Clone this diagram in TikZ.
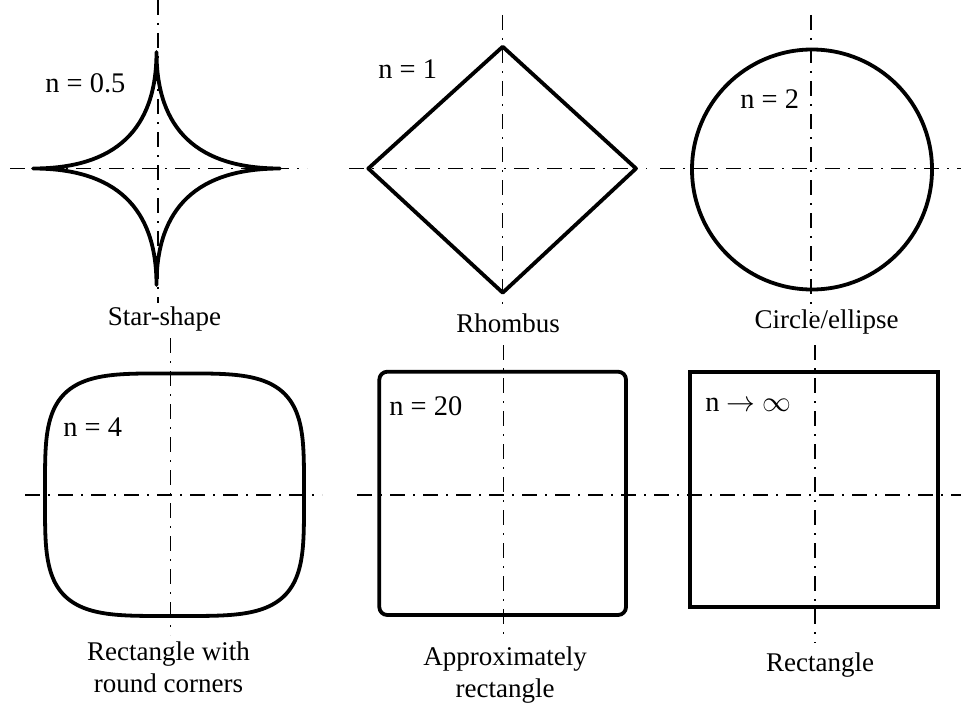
\documentclass[tikz,border=0pt]{standalone}
\usepackage{fontspec}
\setmainfont{Liberation Serif}
\usepackage{tikz}
\usetikzlibrary{positioning}

\begin{document}
\begin{tikzpicture}[
        x=0.5pt, y=-0.5pt,
        outline/.style={line width=1.9pt, line join=round},
        axis/.style={line width=0.75pt, dash pattern=on 7.5pt off 4pt on 1pt off 4pt},
        nlabel/.style={anchor=base west, inner sep=0pt, font=\fontsize{14.2pt}{17pt}\selectfont},
        caption/.style={inner sep=0pt, align=center, font=\fontsize{13.5pt}{16pt}\selectfont}
    ]
        \useasboundingbox (0,0) rectangle (961,706);

        % Centre lines, top row
        \draw[axis] (158,0) -- (158,303);
        \draw[axis] (10,168.5) -- (307,168.5);
        \draw[axis] (502.7,15) -- (502.7,307);
        \draw[axis] (349,168.5) -- (647,168.5);
        \draw[axis] (811,15) -- (811,313);
        \draw[axis] (660,168.5) -- (961,168.5);

        % Centre lines, bottom row
        \draw[axis] (170.7,338) -- (170.7,635);
        \draw[axis] (25,495) -- (322,495);
        \draw[axis] (503.3,345) -- (503.3,640);
        \draw[axis] (815,345) -- (815,643);
        \draw[axis] (357,495) -- (961,495);

        % n = 0.5
        \begin{scope}[shift={(156.5,168.5)}]
            \draw[outline] (123.5,0) .. controls (41.17,0) and (0,38.83) .. (0,116.5)
                .. controls (0,38.83) and (-41.17,0) .. (-123.5,0)
                .. controls (-41.17,0) and (0,-38.83) .. (0,-116.5)
                .. controls (0,-38.83) and (41.17,0) .. cycle;
        \end{scope}
        \node[nlabel] (n05) at (45,92) {n = 0.5};
        \node[caption, anchor=base] (starcap) at (164.5,325) {Star-shape};

        % n = 1
        \draw[outline] (502.7,46.7) -- (636,168.5) -- (502.7,292.7) -- (368.3,168.5) -- cycle;
        \node[nlabel] (n1) at (378,78) {n = 1};
        \node[caption, anchor=base] (rhombcap) at (508,332.7) {Rhombus};

        % n = 2
        \draw[outline] (812,169.5) circle[radius=120];
        \node[nlabel] (n2) at (740,108.3) {n = 2};
        \node[caption, anchor=base] (circcap) at (826.5,328) {Circle/ellipse};

        % n = 4
        \draw[outline] plot[domain=0:358, samples=180, smooth cycle]
            ({174.5+129.5*sign(cos(\x))*sqrt(abs(cos(\x)))},
             {494.7+121.3*sign(sin(\x))*sqrt(abs(sin(\x)))});
        \node[nlabel] (n4) at (63,436.7) {n = 4};
        \node[caption, anchor=north] (roundcap) at (168.5,641.6) {Rectangle with\\round corners};

        % n = 20
        \draw[outline, rounded corners=4pt] (379.3,371.7) rectangle (626,615);
        \node[nlabel] (n20) at (389,415) {n = 20};
        \node[caption, anchor=north] (approxcap) at (505,646.6) {Approximately\\rectangle};

        % n -> infinity
        \draw[outline, line join=miter] (690,372.3) rectangle (938.3,606.7);
        \node[nlabel] (ninf) at (705,411) {n $\rightarrow$ $\infty$};
        \node[caption, anchor=base] (rectcap) at (820,671.7) {Rectangle};

    \end{tikzpicture}
\end{document}
